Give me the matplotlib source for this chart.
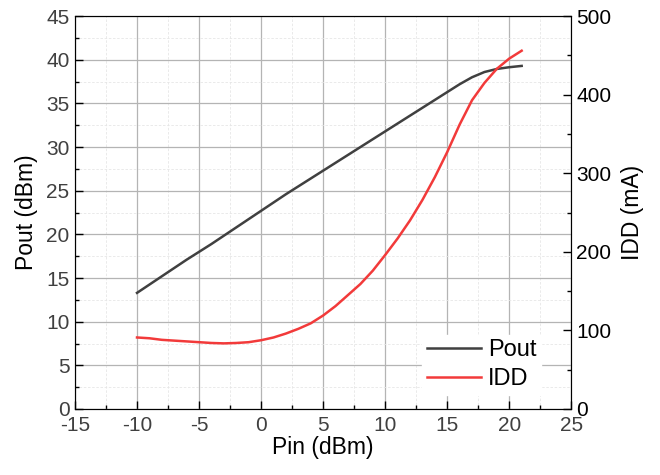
import matplotlib
matplotlib.use("Agg")
import matplotlib.pyplot as plt
from matplotlib.ticker import MultipleLocator

plt.rcParams['font.family'] = ['Liberation Sans', 'DejaVu Sans']
plt.rcParams['axes.unicode_minus'] = False

# measured data
pin = [-10, -8, -6, -4, -2, 0, 2, 4, 6, 8, 10, 12, 14, 15, 16, 17, 18, 19, 20, 21]
pout = [13.3, 15.2, 17.1, 18.9, 20.8, 22.7, 24.6, 26.4, 28.2, 30.0,
        31.8, 33.6, 35.4, 36.3, 37.2, 38.0, 38.6, 38.95, 39.15, 39.3]

pin_idd = [-10, -9, -8, -7, -6, -5, -4, -3, -2, -1, 0, 1, 2, 3, 4, 5, 6, 7, 8,
           9, 10, 11, 12, 13, 14, 15, 16, 17, 18, 19, 20, 21]
idd = [91, 90, 88, 87, 86, 85, 84, 83.5, 84, 85, 87.5, 91, 96, 102, 109, 119, 131,
       145, 159, 176, 196, 217, 240, 266, 295, 327, 362, 393, 415, 433, 446, 456]

fig = plt.figure(figsize=(6.6, 4.75), dpi=100)
ax = fig.add_axes([0.1136, 0.139, 0.752, 0.827])
ax2 = ax.twinx()

gray = '#404040'
red = '#f23a3a'

l1, = ax.plot(pin, pout, color=gray, lw=1.8, label='Pout')
l2, = ax2.plot(pin_idd, idd, color=red, lw=1.8, label='IDD')

ax.set_xlim(-15, 25)
ax.set_ylim(0, 45)
ax2.set_ylim(0, 500)

ax.xaxis.set_major_locator(MultipleLocator(5))
ax.xaxis.set_minor_locator(MultipleLocator(2.5))
ax.yaxis.set_major_locator(MultipleLocator(5))
ax.yaxis.set_minor_locator(MultipleLocator(2.5))
ax2.yaxis.set_major_locator(MultipleLocator(100))
ax2.yaxis.set_minor_locator(MultipleLocator(50))

ax.grid(which='major', color='#b4b4b4', lw=0.9, ls='-')
ax.grid(which='minor', color='#e6e6e6', lw=0.6, ls=(0, (3, 2)))
ax.set_axisbelow(True)

ax.tick_params(which='both', direction='in', labelsize=15, colors='black', labelcolor=gray)
ax.tick_params(which='major', length=6, width=1)
ax.tick_params(which='minor', length=3, width=1)
ax.tick_params(axis='x', pad=5)
ax.tick_params(axis='y', pad=4)
ax2.tick_params(which='both', direction='in', labelsize=15, labelcolor='black')
ax2.tick_params(which='major', length=6, width=1)
ax2.tick_params(which='minor', length=3, width=1)

for s in ax.spines.values():
    s.set_color(gray)
ax2.spines['right'].set_color('black')
ax2.spines['top'].set_color('black')

ax.set_xlabel('Pin (dBm)', fontsize=16.5, color='black', labelpad=1)
ax.set_ylabel('Pout (dBm)', fontsize=16.5, color='black', labelpad=6)
ax2.set_ylabel('IDD (mA)', fontsize=16.5, color='black', labelpad=7)

leg = ax2.legend([l1, l2], ['Pout', 'IDD'], loc='lower right', fontsize=17,
                 frameon=True, framealpha=1, edgecolor='white',
                 bbox_to_anchor=(0.963, 0.005), handlelength=2.3,
                 handletextpad=0.3, borderpad=0.2, labelspacing=0.3,
                 fancybox=False)

fig.savefig('out.png', dpi=100)
